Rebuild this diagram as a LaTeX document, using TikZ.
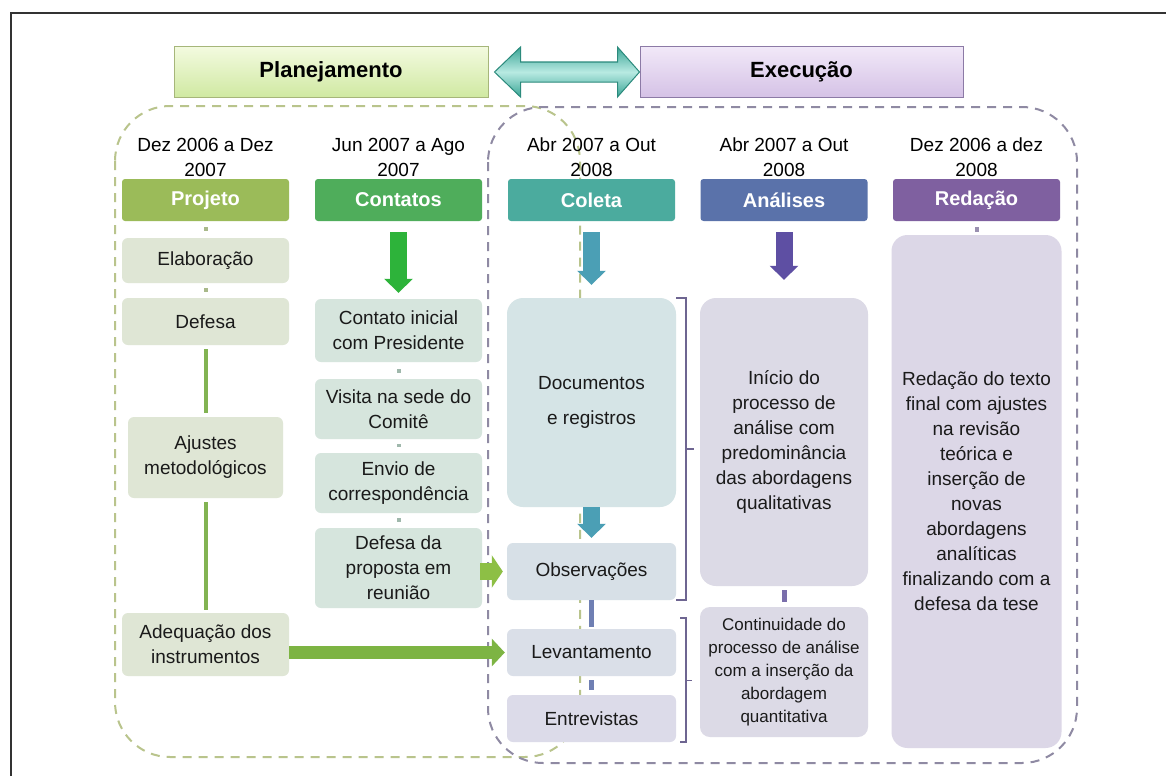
\documentclass[tikz,border=0pt]{standalone}
\usepackage{fontspec}
\setmainfont{Liberation Sans}
\usetikzlibrary{arrows.meta,calc}
\definecolor{cProj}{HTML}{9BBB59}
\definecolor{cCont}{HTML}{4FAD5B}
\definecolor{cCol}{HTML}{4BAB9E}
\definecolor{cAna}{HTML}{5A72AA}
\definecolor{cRed}{HTML}{7F60A0}
\definecolor{fProj}{HTML}{DFE6D5}
\definecolor{fCont}{HTML}{D6E5DD}
\definecolor{fDoc}{HTML}{D5E4E6}
\definecolor{fObs}{HTML}{D7E0E7}
\definecolor{fLev}{HTML}{DADFE8}
\definecolor{fEnt}{HTML}{DCDBE9}
\definecolor{fAna}{HTML}{DCDAE6}
\definecolor{fRed}{HTML}{DCD7E7}
\definecolor{gDash}{HTML}{B9C48C}
\definecolor{pDash}{HTML}{8F8AA3}
\definecolor{plTop}{HTML}{F3FADF}
\definecolor{plBot}{HTML}{D0E9A2}
\definecolor{plBrd}{HTML}{A6B67A}
\definecolor{exTop}{HTML}{F1E8F8}
\definecolor{exBot}{HTML}{D5C2E6}
\definecolor{exBrd}{HTML}{8C7AA6}
\definecolor{arTeal}{HTML}{3AA596}
\definecolor{arLight}{HTML}{B8EAE2}
\definecolor{arBrd}{HTML}{2B8A7C}
\definecolor{aCont}{HTML}{2DB33A}
\definecolor{aCol}{HTML}{4B9FB5}
\definecolor{aAna}{HTML}{5E4FA3}
\definecolor{lProj}{HTML}{82B352}
\definecolor{lCol}{HTML}{6F7FB3}
\definecolor{lAna}{HTML}{7A6EAB}
\definecolor{dProj}{HTML}{A9B98A}
\definecolor{dCont}{HTML}{A0B8AC}
\definecolor{dRed}{HTML}{9A90B0}
\definecolor{aGreen}{HTML}{8DBF45}
\definecolor{aBig}{HTML}{7DB443}
\definecolor{brk}{HTML}{6E6591}
\definecolor{txt}{HTML}{1A1A1A}
\begin{document}
\begin{tikzpicture}[x=1pt,y=-1pt,
  title/.style={rectangle, minimum height=50pt, inner sep=0pt, draw, line width=1pt,
    font=\fontsize{22}{26}\selectfont\bfseries, text=black},
  hdr/.style={rectangle, rounded corners=3pt, minimum width=167pt, minimum height=42pt,
    inner sep=0pt, text=white, font=\fontsize{20}{24}\selectfont\bfseries},
  bx/.style={rectangle, rounded corners=6pt, align=center, inner sep=0pt,
    font=\fontsize{19}{25}\selectfont, text=txt},
  datelbl/.style={align=center, inner sep=0pt, font=\fontsize{19}{25}\selectfont, text=black},
  fatarrow/.style={line width=17pt, -{Triangle[length=14pt,width=28pt]}},
  dotc/.style={line width=4pt},
  conline/.style={line width=4pt},
  brkline/.style={draw=brk, line width=1.6pt},
  region/.style={dashed, dash pattern=on 9pt off 7pt, line width=2pt, rounded corners=55pt}
]
\useasboundingbox (0,0) rectangle (1166,776);
\fill[white] (0,0) rectangle (1166,776);
% frame
\draw[line width=1.5pt, black!80] (11,776) -- (11,13) -- (1166,13);

% dashed regions
\draw[region, draw=gDash] (115,106) rectangle (580,757);
\draw[region, draw=pDash] (488,107) rectangle (1077,763);

% titles
\node[title, minimum width=314pt, draw=plBrd, top color=plTop, bottom color=plBot] (plan) at (331,72) {Planejamento};
\node[title, minimum width=323pt, draw=exBrd, top color=exTop, bottom color=exBot] (exec) at (801.5,72) {Execução};

% double arrow
\coordinate (dl) at ($(plan.east)+(6,0)$);
\coordinate (dr) at (exec.west);
\draw[draw=arBrd, line width=1pt, top color=arTeal, bottom color=arTeal, middle color=arLight]
  (dl) -- ++(26,-25) -- ++(0,15) -- ($(dr)+(-22,-10)$) -- ++(0,-15) -- (dr)
  -- ++(-22,25) -- ++(0,-15) -- ($(dl)+(26,10)$) -- ++(0,15) -- cycle;

% dates
\node[datelbl] (d1) at (205.5,157) {Dez 2006 a Dez\\2007};
\node[datelbl] (d2) at (398.5,157) {Jun 2007 a Ago\\2007};
\node[datelbl] (d3) at (591.5,157) {Abr 2007 a Out\\2008};
\node[datelbl] (d4) at (784,157) {Abr 2007 a Out\\2008};
\node[datelbl] (d5) at (976.5,157) {Dez 2006 a dez\\2008};

% headers
\node[hdr, fill=cProj] (hproj) at (205.5,200) {Projeto};
\node[hdr, fill=cCont] (hcont) at (398.5,200) {Contatos};
\node[hdr, fill=cCol]  (hcol)  at (591.5,200) {Coleta};
\node[hdr, fill=cAna]  (hana)  at (784,200) {Análises};
\node[hdr, fill=cRed]  (hred)  at (976.5,200) {Redação};

% Projeto column
\node[bx, fill=fProj, minimum width=167pt, minimum height=45pt] (elab) at (205.5,260.5) {Elaboração};
\node[bx, fill=fProj, minimum width=167pt, minimum height=47pt] (def) at (205.5,321.5) {Defesa};
\node[bx, fill=fProj, minimum width=155pt, minimum height=81pt] (ajus) at (205.5,457.5) {Ajustes\\metodológicos};
\node[bx, fill=fProj, minimum width=167pt, minimum height=63pt] (adeq) at (205.5,644.5) {Adequação dos\\instrumentos};

% Contatos column
\node[bx, fill=fCont, minimum width=167pt, minimum height=63pt] (ci) at (398.5,330.5) {Contato inicial\\com Presidente};
\node[bx, fill=fCont, minimum width=167pt, minimum height=60pt] (vis) at (398.5,409) {Visita na sede do\\Comitê};
\node[bx, fill=fCont, minimum width=167pt, minimum height=60pt] (env) at (398.5,483) {Envio de\\correspondência};
\node[bx, fill=fCont, minimum width=167pt, minimum height=80pt] (dp) at (398.5,568) {Defesa da\\proposta em\\reunião};

% Coleta column
\node[bx, fill=fDoc, rounded corners=16pt, minimum width=169pt, minimum height=209pt] (doc) at (591.5,402.5) {Documentos\\[10pt]e registros};
\node[bx, fill=fObs, minimum width=169pt, minimum height=57pt] (obs) at (591.5,571.5) {Observações};
\node[bx, fill=fLev, minimum width=169pt, minimum height=47pt] (lev) at (591.5,652.5) {Levantamento};
\node[bx, fill=fEnt, minimum width=169pt, minimum height=47pt] (ent) at (591.5,718.5) {Entrevistas};

% Analises column
\node[bx, fill=fAna, rounded corners=16pt, minimum width=168pt, minimum height=288pt] (ini) at (784,442)
  {Início do\\processo de\\análise com\\predominância\\das abordagens\\qualitativas};
\node[bx, fill=fAna, rounded corners=10pt, minimum width=168pt, minimum height=130pt,
  font=\fontsize{17}{23}\selectfont] (cont) at (784,672)
  {Continuidade do\\processo de análise\\com a inserção da\\abordagem\\quantitativa};

% Redacao column
\node[bx, fill=fRed, rounded corners=16pt, minimum width=170pt, minimum height=513pt] (red) at (976.5,491.5)
  {Redação do texto\\final com ajustes\\na revisão\\teórica e\\inserção de\\novas\\abordagens\\analíticas\\finalizando com a\\defesa da tese};

% connectors - Projeto
\draw[dotc, dProj, shorten <=6pt, shorten >=7pt] (hproj.south) -- (elab.north);
\draw[dotc, dProj, shorten <=5pt, shorten >=6pt] (elab.south) -- (def.north);
\draw[conline, lProj, shorten <=4pt, shorten >=4pt] (def.south) -- (ajus.north);
\draw[conline, lProj, shorten <=4pt, shorten >=3pt] (ajus.south) -- (adeq.north);

% connectors - Contatos
\draw[fatarrow, aCont, shorten <=11pt, shorten >=6pt] (hcont.south) -- (ci.north);
\draw[dotc, dCont, shorten <=7pt, shorten >=6pt] (ci.south) -- (vis.north);
\draw[dotc, dCont, shorten <=5pt, shorten >=6pt] (vis.south) -- (env.north);
\draw[dotc, dCont, shorten <=5pt, shorten >=6pt] (env.south) -- (dp.north);

% cross arrows
\draw[line width=17pt, aGreen, -{Triangle[length=11pt,width=32pt]}, shorten <=-2pt, shorten >=4pt] (dp.east |- obs.west) -- (obs.west);
\draw[line width=13pt, aBig, -{Triangle[length=13pt,width=27pt]}, shorten >=2pt] (adeq.east |- lev.west) -- (lev.west);

% connectors - Coleta
\draw[fatarrow, aCol, shorten <=11pt, shorten >=13pt] (hcol.south) -- (doc.north);
\draw[fatarrow, aCol, shorten <=0pt, shorten >=5pt] (doc.south) -- (obs.north);
\draw[conline, line width=5pt, lCol, shorten <=0pt, shorten >=2pt] (obs.south) -- (lev.north);
\draw[conline, line width=5pt, lCol, shorten <=4pt, shorten >=5pt] (lev.south) -- (ent.north);

% connectors - Analises
\draw[fatarrow, aAna, shorten <=11pt, shorten >=18pt] (hana.south) -- (ini.north);
\draw[conline, line width=5pt, lAna, shorten <=4pt, shorten >=5pt] (ini.south) -- (cont.north);

% connectors - Redacao
\draw[dotc, dRed, shorten <=6pt, shorten >=3pt] (hred.south) -- (red.north);

% brackets
\draw[brkline] (doc.north east) -| ($(obs.south east)+(10,0)$) -- (obs.south east);
\draw[brkline] ($(doc.north east)!0.5!(obs.south east)+(10,0)$) -- ++(8,0);
\draw[brkline] ($(lev.north east)+(4,-11)$) -| ($(ent.south east)+(10,0)$) -- ($(ent.south east)+(4,0)$);
\draw[brkline] ($(lev.north east)!0.5!(ent.south east)+(10,-5)$) -- ++(6,0);
\end{tikzpicture}
\end{document}
